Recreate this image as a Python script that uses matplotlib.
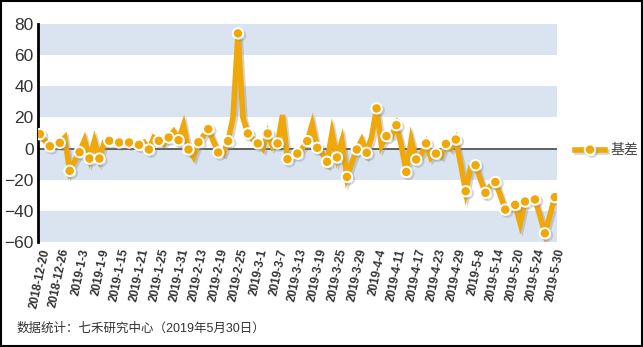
import matplotlib
matplotlib.use("Agg")
import matplotlib.pyplot as plt
import matplotlib.patheffects as pe
from matplotlib.patches import Rectangle
import numpy as np

plt.rcParams['font.family'] = ['Liberation Sans', 'Noto Sans CJK SC', 'DejaVu Sans']

# 基差 values, one per trading day
basis = [9.3, 5, 1.5, 2.5, 3.7, 7, -14.3, -8, -2.3, 5.4,
         -6.4, 5, -6.4, 4, 5, 4.5, 3.9, 4, 3.9, 3,
         2.4, 4, -0.6, 7, 5, 3, 7.1, 11, 5.4, 15,
         -0.6, -5.3, 4.1, 8, 12.5, 5, -2.5, -3.5, 4.8, 20,
         74, 20, 9.7, 6, 3.3, 0, 9.7, 1, 3.3, 21.5,
         -6.8, -5, -3.2, 0, 4.8, 15.7, 0.5, -3, -8.5, 10,
         -5.7, 5, -18.2, -9, -0.6, 5.4, -2.7, 7.5, 25.8, 2,
         8, 8, 15, 2, -15, 5.4, -7, -4, 3.3, -6,
         -3.2, -5, 3, 0, 5.8, -10, -27.4, -12, -10.7, -20,
         -28.4, -24, -21.5, -30, -39.2, -38, -36.2, -48, -34, -33,
         -32.7, -43, -54.4, -43, -31.2]

tick_labels = ['2018-12-20', '2018-12-26', '2019-1-3', '2019-1-9', '2019-1-15',
               '2019-1-21', '2019-1-25', '2019-1-31', '2019-2-13', '2019-2-19',
               '2019-2-25', '2019-3-1', '2019-3-7', '2019-3-13', '2019-3-19',
               '2019-3-25', '2019-3-29', '2019-4-4', '2019-4-11', '2019-4-17',
               '2019-4-23', '2019-4-29', '2019-5-8', '2019-5-14', '2019-5-20',
               '2019-5-24', '2019-5-30']
tick_step = 4

x = np.arange(len(basis))
orange = '#f0a808'
band = '#d9e4f0'

fig = plt.figure(figsize=(6.43, 3.47), dpi=100)
ax = fig.add_axes([38 / 643, 1 - 242 / 347, (557 - 38) / 643, (242 - 24) / 347])

# alternating bands
for lo in [60, 20, -20, -60]:
    ax.axhspan(lo, lo + 20, color=band, lw=0, zorder=0)
ax.axhline(0, color='#555555', lw=1.3, zorder=1)

ax.plot(x, basis, color=orange, lw=4, solid_joinstyle='miter',
        marker='o', markevery=2, ms=7.5, mfc=orange, mec='white', mew=1.4,
        label='基差', zorder=3,
        path_effects=[pe.SimpleLineShadow(offset=(1.5, -1.5), shadow_color='#888888', alpha=0.35),
                      pe.Normal()])

ax.set_xlim(-0.4, 104.45)
ax.set_ylim(-60, 80)
ax.set_yticks(range(-60, 81, 20))
ax.tick_params(axis='y', length=0, labelsize=12.5, colors='#333333', pad=3)
ax.set_xticks(x[::tick_step])
ax.set_xticklabels(tick_labels, rotation=78, ha='right', rotation_mode='anchor',
                   fontsize=8.5, fontweight='bold', color='#333333')
ax.tick_params(axis='x', length=0, pad=4)

for s in ['top', 'right', 'bottom']:
    ax.spines[s].set_visible(False)
ax.spines['left'].set_linewidth(2)
ax.spines['left'].set_color('black')

leg = ax.legend(loc='center left', bbox_to_anchor=(1.01, 0.42), frameon=False,
                fontsize=10, handlelength=2.2, handletextpad=0.35)
for t in leg.get_texts():
    t.set_color('#444444')

fig.text(17 / 643, 1 - 329 / 347, '数据统计：七禾研究中心（2019年5月30日）',
         fontsize=9, color='#333333', va='center')

fig.patches.append(Rectangle((0.001, 0.002), 0.997, 0.995, transform=fig.transFigure,
                             fill=False, ec='black', lw=1.5))

fig.savefig('out.png', dpi=100)
